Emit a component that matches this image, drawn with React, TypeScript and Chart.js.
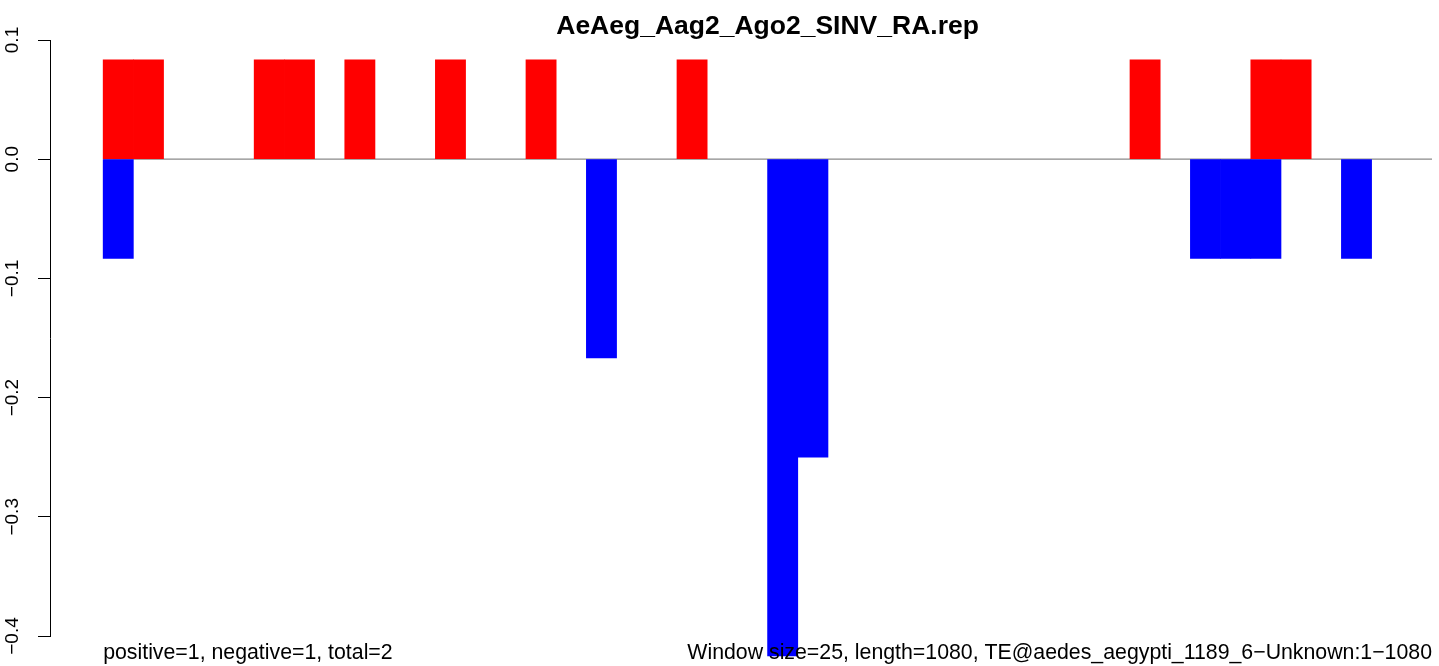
import React, { useEffect, useRef } from "react";
import { Chart, registerables } from "chart.js";

Chart.register(...registerables);

// ---- data ----
const TITLE = "AeAeg_Aag2_Ago2_SINV_RA.rep";
const FOOT_LEFT = "positive=1, negative=1, total=2";
const FOOT_RIGHT = "Window size=25, length=1080, TE@aedes_aegypti_1189_6\u2212Unknown:1\u22121080";

const binCount = 44;

// windows 0..43 (null = no bar)
const positive = [
  0.0833, 0.0833, null, null, null, 0.0833, 0.0833, null, 0.0833, null,
  null, 0.0833, null, null, 0.0833, null, null, null, null, 0.0833,
  null, null, null, null, null, null, null, null, null, null,
  null, null, null, null, 0.0833, null, null, null, 0.0833, 0.0833,
  null, null, null, null,
];

const negative = [
  -0.0833, null, null, null, null, null, null, null, null, null,
  null, null, null, null, null, null, -0.1667, null, null, null,
  null, null, -0.4167, -0.25, null, null, null, null, null, null,
  null, null, null, null, null, null, -0.0833, -0.0833, -0.0833, null,
  null, -0.0833, null, null,
];

const yTicks = [-0.4, -0.3, -0.2, -0.1, 0.0, 0.1];

const FONT = "'Liberation Sans', Arial, Helvetica, sans-serif";

const textPlugin = {
  id: "rText",
  afterDraw(chart: any) {
    const { ctx } = chart;
    const x = chart.scales.x;
    ctx.save();
    ctx.fillStyle = "#000";
    ctx.textBaseline = "alphabetic";
    ctx.font = `bold 26.5px ${FONT}`;
    ctx.textAlign = "center";
    ctx.fillText(TITLE, x.getPixelForValue(binCount / 2), 34);
    ctx.font = `21.3px ${FONT}`;
    ctx.textAlign = "left";
    ctx.fillText(FOOT_LEFT, x.getPixelForValue(0), 658.5);
    ctx.textAlign = "right";
    ctx.fillText(FOOT_RIGHT, x.getPixelForValue(binCount), 658.5);
    ctx.restore();
  },
};

export default function App() {
  const canvasRef = useRef<HTMLCanvasElement | null>(null);

  useEffect(() => {
    const canvas = canvasRef.current;
    if (!canvas) return;
    const chart = new Chart(canvas, {
      type: "bar",
      data: {
        datasets: [
          {
            type: "line",
            data: [
              { x: 0, y: 0 },
              { x: binCount, y: 0 },
            ],
            borderColor: "#8a8a8a",
            borderWidth: 1.2,
            pointRadius: 0,
            order: 3,
          } as any,
          {
            type: "bar",
            data: positive.map((v, i) => ({ x: i + 0.5, y: v })),
            backgroundColor: "#ff0000",
            borderWidth: 0,
            grouped: false,
            barPercentage: 1,
            categoryPercentage: 1,
            clip: false,
            order: 1,
          } as any,
          {
            type: "bar",
            data: negative.map((v, i) => ({ x: i + 0.5, y: v })),
            backgroundColor: "#0000ff",
            borderWidth: 0,
            grouped: false,
            barPercentage: 1,
            categoryPercentage: 1,
            clip: false,
            order: 2,
          } as any,
        ],
      },
      options: {
        responsive: false,
        animation: false,
        layout: { padding: { top: 40, bottom: 30, left: 0, right: 7 } },
        plugins: {
          legend: { display: false },
          title: { display: false },
          tooltip: { enabled: false },
        },
        scales: {
          x: {
            type: "linear",
            display: false,
            offset: false,
            min: -0.04 * binCount,
            max: binCount,
          },
          y: {
            type: "linear",
            min: yTicks[0],
            max: yTicks[yTicks.length - 1],
            afterBuildTicks: (scale: any) => {
              scale.ticks = yTicks.map((v) => ({ value: v }));
            },
            afterFit: (scale: any) => {
              scale.width = 50;
            },
            border: { display: true, color: "#000", width: 1 },
            grid: {
              drawOnChartArea: false,
              drawTicks: true,
              tickLength: 12,
              color: "#000",
              lineWidth: 1,
            },
            ticks: {
              minRotation: 90,
              maxRotation: 90,
              crossAlign: "center",
              padding: 6,
              color: "#000",
              font: { family: FONT, size: 19 },
              callback: (v: any) => {
                const n = Number(v);
                if (Math.abs(n) < 1e-9) return "0.0";
                return n.toFixed(1).replace("-", "\u2212");
              },
            },
          },
        },
      },
      plugins: [textPlugin],
    } as any);
    return () => chart.destroy();
  }, []);

  return (
    <div style={{ position: "fixed", left: 0, top: 0, width: 1439, height: 666, background: "#fff" }}>
      <canvas ref={canvasRef} width={1439} height={666} />
    </div>
  );
}
